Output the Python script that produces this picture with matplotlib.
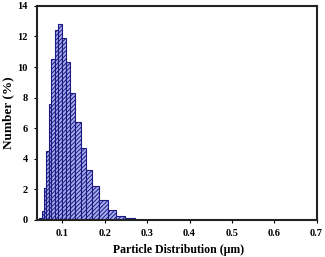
import matplotlib
matplotlib.use("Agg")
import matplotlib.pyplot as plt
import numpy as np

# Bin edges (particle size, µm) and percentage in each bin
bin_edges = [0.0445, 0.0523, 0.0570, 0.0617, 0.0672, 0.0734, 0.0813, 0.0883,
             0.0984, 0.1078, 0.1180, 0.1297, 0.1430, 0.1547, 0.1703, 0.1867,
             0.2070, 0.2258, 0.2477, 0.2711]
number_pct = [0.15, 0.6, 2.1, 4.5, 7.6, 10.5, 12.4, 12.8, 11.9, 10.3, 8.3,
              6.4, 4.7, 3.3, 2.2, 1.3, 0.65, 0.26, 0.1]
x_ticks = [0.1, 0.2, 0.3, 0.4, 0.5, 0.6, 0.7]
y_ticks = [0, 2, 4, 6, 8, 10, 12, 14]

plt.rcParams['font.family'] = ['Liberation Serif', 'DejaVu Serif']
plt.rcParams['hatch.linewidth'] = 0.7

fig = plt.figure(figsize=(3.25, 2.57), dpi=100)
ax = fig.add_axes([0.114, 0.144, 0.86, 0.833])

edges = np.array(bin_edges)
ax.bar(edges[:-1], number_pct, width=np.diff(edges), align='edge',
       facecolor='#a9aef0', edgecolor='#1a1a80', hatch='////////', linewidth=0.8)

ax.set_xlim(0.04, 0.7)
ax.set_ylim(0, 14)
ax.set_xticks(x_ticks)
ax.set_xticklabels([f"{t:g}" for t in x_ticks], fontsize=7.5, fontweight='bold')
ax.set_yticks(y_ticks)
ax.set_yticklabels([str(t) for t in y_ticks], fontsize=7.5, fontweight='bold')
ax.tick_params(direction='out', length=2.5, width=0.8, pad=4)
for s in ax.spines.values():
    s.set_linewidth(1.5)
    s.set_color('#222222')

ax.set_ylabel('Number (%)', fontsize=9.5, fontweight='bold', labelpad=2)
fig.text(0.548, 0.004, 'Particle Distribution (μm)', ha='center', va='bottom',
         fontsize=8.5, fontweight='bold')

fig.savefig('out.png', dpi=100)
